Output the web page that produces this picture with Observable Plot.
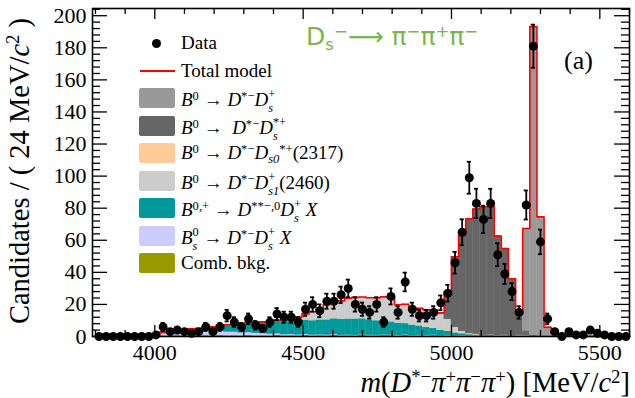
<!DOCTYPE html>
<html><head><meta charset="utf-8">
<script src="https://cdn.jsdelivr.net/npm/d3@7"></script>
<script src="https://cdn.jsdelivr.net/npm/@observablehq/plot@0.6"></script>
<style>
body{margin:0;background:#fff;}
#wrap{position:relative;width:635px;height:398px;overflow:hidden;font-family:"Liberation Serif",serif;color:#000;}
#wrap svg{position:absolute;left:0;top:0;}
.ov{position:absolute;white-space:nowrap;line-height:1;}
sup{font-size:0.66em;vertical-align:0.5em;line-height:0;}
sub{font-size:0.66em;vertical-align:-0.3em;line-height:0;}
.ss{display:inline-block;vertical-align:middle;line-height:1.12;font-size:0.65em;}
.ss span{display:block;}
.sw{position:absolute;border-radius:2px;}
</style></head>
<body><div id="wrap"></div>
<script>
// ---- data ----
const binStart = 3800, binWidth = 24;
const dataCounts = [0,0,0,0,0,0,0,0,
 1,6,3,4,3,2,3,6,3,6,
 13,9,6,11,7,5,9,14,12,12,
 9,17,20,16,22,22,26,30,20,17,
 15,20,9,25,15,34,17,13,13,15,
 21,27,46,65,99,83,73,83,51,39,
 28,15,82,181,59,11,3,0,3,1,
 1,4,2,1,0,0,0];
const combBkg = [0,0,0,0,0,0,0,0,
 0.3,0.5,0.3,0.6,0.3,0.5,0.3,0.6,0.3,0.8,
 0.4,0.5,0.3,0.7,0.4,0.5,0.3,0.8,0.3,0.5,
 0.4,0.7,0.3,0.5,0.4,0.8,0.3,0.5,0.4,0.8,
 0.5,0.4,0.8,0.6,0.4,0.8,0.3,0.5,0.4,0.6,
 0.3,0.5,0.3,0.4,0.3,0.4,0.3,0.8,0.4,0.6,
 0.3,0.5,0.4,0.3,0.3,0.2,0.2,0.2,0.1,0.1,
 0.1,0.1,0.1,0,0,0,0];
const bsDsX = [0,0,0,0,0,0,0,0,
 0.5,1.2,1.6,2.0,2.2,2.3,2.4,2.5,2.5,2.6,
 2.4,2.2,2.0,1.8,1.6,1.4,1.2,1.0,0.9,0.8,
 0.7,0.6,0.6,0.5,0.5,0.5,0.4,0.4,0.3,0.3,
 0.3,0.3,0.3,0.3,0.3,0.3,0.3,0.3,0.3,0.3,
 0.2,0.2,0.2,0.2,0.2,0.2,0.2,0.2,0.2,0.2,
 0.2,0.2,0.2,0,0,0,0,0,0,0,
 0,0,0,0,0,0,0];
const dssDsX = [0,0,0,0,0,0,0,0,
 0.2,1.0,1.3,1.5,1.7,2.0,2.3,2.8,3.2,3.8,
 4.5,5.2,5.8,6.3,6.8,7.2,7.5,7.8,8.2,8.5,
 8.5,8.8,9.0,9.3,9.5,9.8,10.0,10.0,10.2,10.0,
 9.6,9.2,8.8,8.2,7.6,7.0,6.4,5.8,5.0,4.2,
 3.4,2.6,1.8,1.2,0.7,0.4,0.2,0,0,0,
 0,0,0,0,0,0,0,0,0,0,
 0,0,0,0,0,0,0];
const dstDs0 = [0,0,0,0,0,0,0,0,
 0,0,0,0,0,0,0,0,0,0,
 0,0,0,0,0,0,0,0,0,0,
 0,0,0,0,0,0,0,0,0,0,
 0,0,0,0,0,0,0,0,0.4,0.4,
 0.4,0.4,0.4,0.4,0.4,0.4,0,0,0,0,
 0,0,0,0,0,0,0,0,0,0,
 0,0,0,0,0,0,0];
const dstDs1 = [0,0,0,0,0,0,0,0,
 0,0,0,0,0,0,0,0,0,0,
 0,0,0,0,0,0,0.3,0.6,1.0,1.5,
 2.5,4.0,5.5,7.5,9.5,10.5,11.5,13.0,13.5,13.5,
 13.8,14.2,14.8,15.0,11.5,12.0,10.5,11.0,10.5,11.0,
 9.5,7.0,3.0,1.0,0.3,0,0,0,0,0,
 0,0,0,0,0,0,0,0,0,0,
 0,0,0,0,0,0,0];
const dstDsStar = [0,0,0,0,0,0,0,0,
 0,0,0,0,0,0,0,0,0,0,
 0,0,0,0,0,0,0,0,0,0,
 0,0,0,0,0,0,0,0,0,0,
 0,0,0,0,0,0,0,0,0,0,
 1,17,44,60,71.5,78,80,80,62,54,
 35.5,12.5,3,0.5,0,0,0,0,0,0,
 0,0,0,0,0,0,0];
const dstDs = [0,0,0,0,0,0,0,0,
 0,0,0,0,0,0,0,0,0,0,
 0,0,0,0,0,0,0,0,0,0,
 0,0,0,0,0,0,0,0,0,0,
 0,0,0,0,0,0,0,0,0,0,
 0,0,0,0,0,0,0,0,0,0,
 0,1,63.7,192.4,74.3,5.6,2.3,0.6,0.3,0.2,
 0,0,0,0,0,0,0];
const yTickValues = [0,20,40,60,80,100,120,140,160,180,200];
const xTickValues = [4000,4500,5000,5500];
const compColors = {comb:"#999900", bs:"#ccccff", dss:"#009999", ds0:"#ffcc99", ds1:"#cccccc", dsstar:"#666666", ds:"#999999"};

// ---- layout ----
const W = 635, H = 398, mL = 92, mR = 6, mT = 8, mB = 62;
const plotW = W - mL - mR, plotH = H - mT - mB;
const nBins = dataCounts.length;
const edges = d3.range(nBins + 1).map(i => binStart + i * binWidth);
const centers = d3.range(nBins).map(i => binStart + (i + 0.5) * binWidth);

const comps = [
  {key:"comb", values: combBkg},
  {key:"bs", values: bsDsX},
  {key:"dss", values: dssDsX},
  {key:"ds0", values: dstDs0},
  {key:"ds1", values: dstDs1},
  {key:"dsstar", values: dstDsStar},
  {key:"ds", values: dstDs}
];
const base = new Array(nBins).fill(0);
const rects = [];
comps.forEach(c => {
  c.values.forEach((v, i) => {
    if (v > 0) rects.push({key: c.key, x1: edges[i], x2: edges[i+1], y1: base[i], y2: base[i] + v});
    base[i] += v;
  });
});
const step = base.map((t, i) => ({x: edges[i], y: t})).concat([{x: edges[nBins], y: base[nBins-1]}]);
const pts = centers.map((c, i) => ({x: c, n: dataCounts[i], lo: dataCounts[i] - Math.sqrt(dataCounts[i]), hi: dataCounts[i] + Math.sqrt(dataCounts[i])}));
const errPts = pts.filter(p => p.n > 0);
const yMinor = d3.range(0, 205, 4).filter(v => v % 20 !== 0);
const xMinor = d3.range(3800, 5601, 100).filter(v => !xTickValues.includes(v));
const capHalf = 7;

const tickStyle = {stroke: "black", strokeWidth: 1.3};
const svg = Plot.plot({
  width: W, height: H, marginLeft: mL, marginRight: mR, marginTop: mT, marginBottom: mB,
  style: {fontFamily: "'Liberation Serif', serif", fontSize: "22px", background: "transparent", color: "black"},
  x: {domain: [3790, 5600], ticks: xTickValues, tickSize: 0, tickPadding: 8, tickFormat: d => String(d), label: null},
  y: {domain: [0, 204.5], ticks: yTickValues, tickSize: 0, tickPadding: 6, label: null},
  marks: [
    ...comps.map(c => Plot.rect(rects.filter(r => r.key === c.key), {x1: "x1", x2: "x2", y1: "y1", y2: "y2", fill: compColors[c.key], stroke: compColors[c.key], strokeWidth: 0.4})),
    Plot.line(step, {x: "x", y: "y", curve: "step-after", stroke: "#ff0000", strokeWidth: 1.6}),
    Plot.tickY(yTickValues, {y: d => d, insetRight: plotW - 15, ...tickStyle}),
    Plot.tickY(yMinor, {y: d => d, insetRight: plotW - 8, ...tickStyle}),
    Plot.tickY(yTickValues, {y: d => d, insetLeft: plotW - 15, ...tickStyle}),
    Plot.tickY(yMinor, {y: d => d, insetLeft: plotW - 8, ...tickStyle}),
    Plot.tickX(xTickValues, {x: d => d, insetTop: plotH - 11, ...tickStyle}),
    Plot.tickX(xMinor, {x: d => d, insetTop: plotH - 6, ...tickStyle}),
    Plot.tickX(xTickValues, {x: d => d, insetBottom: plotH - 11, ...tickStyle}),
    Plot.tickX(xMinor, {x: d => d, insetBottom: plotH - 6, ...tickStyle}),
    Plot.ruleX(errPts, {x: "x", y1: "lo", y2: "hi", stroke: "black", strokeWidth: 1.8}),
    Plot.ruleY(errPts, {y: "lo", x1: d => d.x - capHalf, x2: d => d.x + capHalf, stroke: "black", strokeWidth: 1.8}),
    Plot.ruleY(errPts, {y: "hi", x1: d => d.x - capHalf, x2: d => d.x + capHalf, stroke: "black", strokeWidth: 1.8}),
    Plot.dot(pts, {x: "x", y: "n", r: 4.5, fill: "black", stroke: "none"}),
    Plot.frame({stroke: "black", strokeWidth: 1.6})
  ]
});
const wrap = document.getElementById("wrap");
wrap.appendChild(svg);

// ---- text overlays ----
const it = s => `<i>${s}</i>`;
const both = (up, dn) => `<span class="ss"><span>${up}</span><span>${dn}</span></span>`;
function addText(html, css) {
  const d = document.createElement("div");
  d.className = "ov";
  d.innerHTML = html;
  Object.assign(d.style, css);
  wrap.appendChild(d);
  return d;
}
const legendLabels = [
  "Data",
  "Total model",
  `${it("B")}<sup>0</sup> → ${it("D")}<sup>*−</sup>${it("D")}${both("+", it("s"))}`,
  `${it("B")}<sup>0</sup> → &nbsp;${it("D")}<sup>*−</sup>${it("D")}${both("*+", it("s"))}`,
  `${it("B")}<sup>0</sup> → ${it("D")}<sup>*−</sup>${it("D")}<sub>${it("s0")}</sub><sup>*+</sup>(2317)`,
  `${it("B")}<sup>0</sup> → ${it("D")}<sup>*−</sup>${it("D")}${both("+", it("s1"))}(2460)`,
  `${it("B")}<sup>0,+</sup> → ${it("D")}<sup>**−,0</sup>${it("D")}${both("+", it("s"))} ${it("X")}`,
  `${it("B")}${both("0", it("s"))} → ${it("D")}<sup>*−</sup>${it("D")}${both("+", it("s"))} ${it("X")}`,
  "Comb. bkg."
];
const legendSwatches = [null, null, "ds", "dsstar", "ds0", "ds1", "dss", "bs", "comb"];
const legendRowY = [43, 71, 98, 126, 153, 181, 208, 236, 263];
legendLabels.forEach((lab, i) => {
  const y = legendRowY[i];
  if (i === 0) {
    const d = document.createElement("div");
    Object.assign(d.style, {position: "absolute", left: "152px", top: (y - 4.5) + "px", width: "9px", height: "9px", borderRadius: "50%", background: "#000"});
    wrap.appendChild(d);
  } else if (i === 1) {
    const d = document.createElement("div");
    Object.assign(d.style, {position: "absolute", left: "140px", top: (y - 1.25) + "px", width: "35px", height: "2.5px", background: "#ff0000"});
    wrap.appendChild(d);
  } else {
    const d = document.createElement("div");
    d.className = "sw";
    Object.assign(d.style, {left: "139px", top: (y - 10) + "px", width: "36px", height: "20px", background: compColors[legendSwatches[i]]});
    wrap.appendChild(d);
  }
  addText(lab, {left: "181px", top: (y - 10) + "px", fontSize: "19px", lineHeight: "20px"});
});

addText(`D<sub>s</sub><sup>−</sup>⟶ π<sup>−</sup>π<sup>+</sup>π<sup>−</sup>`,
  {left: "306px", top: "24px", fontFamily: "'DejaVu Sans', sans-serif", fontSize: "25px", color: "#79b64c"});
addText("(a)", {left: "564px", top: "48px", fontSize: "26px"});
addText(`Candidates / ( 24 MeV/${it("c")}<sup>2</sup> )`,
  {left: "20px", top: "171px", fontSize: "28.5px", transform: "translate(-50%,-50%) rotate(-90deg)"});
addText(`${it("m")}(${it("D")}<sup>*−</sup>${it("π")}<sup>+</sup>${it("π")}<sup>−</sup>${it("π")}<sup>+</sup>) [MeV/${it("c")}<sup>2</sup>]`,
  {right: "5px", top: "369px", fontSize: "28.5px"});
</script>
</body></html>
